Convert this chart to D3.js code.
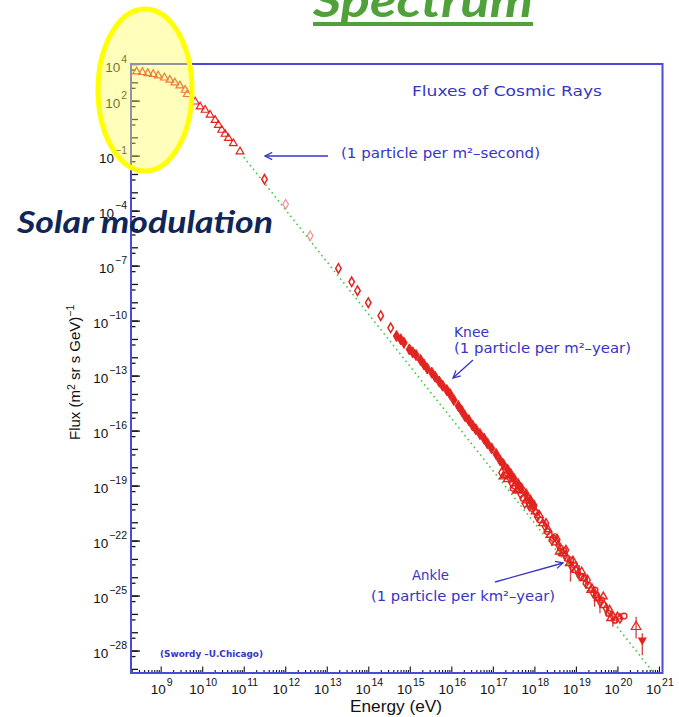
<!DOCTYPE html>
<html>
<head>
<meta charset="utf-8">
<script src="https://cdn.jsdelivr.net/npm/d3@7"></script>
<style>
  body { margin: 0; background: #fff; }
  svg { display: block; font-family: "Liberation Sans", Arial, sans-serif; }
</style>
</head>
<body>
<svg id="chart" width="679" height="717"></svg>
<script>
// values are log10 of energy (eV) and log10 of flux
const lowLogE = [8.42, 8.56, 8.69, 8.82, 8.94, 9.09, 9.22, 9.34, 9.46, 9.59, 9.64, 9.83, 9.95, 10.07, 10.19, 10.31, 10.39, 10.47, 10.55, 10.63, 10.75, 10.91];
const lowLogF = [3.58, 3.55, 3.49, 3.44, 3.36, 3.25, 3.13, 2.98, 2.82, 2.58, 2.35, 1.94, 1.67, 1.49, 1.22, 0.94, 0.67, 0.40, 0.18, -0.05, -0.33, -0.78];

const protonLogE = [11.50, 13.28, 13.60, 13.74, 14.00, 14.30, 14.54];
const protonLogF = [-2.29, -7.15, -7.88, -8.37, -9.02, -9.73, -10.39];
const faintLogE = [12.01, 12.60];
const faintLogF = [-3.65, -5.37];

const kneeLogE = [14.68, 14.78, 14.86, 14.99, 15.07, 15.15, 15.26, 15.34, 15.42, 15.53, 15.61, 15.71, 15.79, 15.89, 15.97,
  16.06, 16.17, 16.25, 16.33, 16.42, 16.51, 16.59, 16.69, 16.79, 16.87, 16.97, 17.08, 17.17, 17.25, 17.35, 17.43,
  17.51, 17.61, 17.69, 17.80, 17.90, 17.99];
const kneeLogF = [-10.84, -11.02, -11.21, -11.57, -11.73, -11.88, -12.15, -12.39, -12.61, -12.84, -13.06, -13.33, -13.55, -13.79, -14.01,
  -14.33, -14.66, -14.92, -15.21, -15.43, -15.72, -15.93, -16.19, -16.44, -16.70, -16.97, -17.28, -17.61, -17.83, -18.12, -18.37,
  -18.63, -18.92, -19.15, -19.46, -19.79, -20.08];

const uhecrLogE = [17.21, 17.29, 17.35, 17.45, 17.53, 17.57, 17.67, 17.73, 17.81, 17.88, 17.94, 18.02, 18.07, 18.14, 18.20,
  18.26, 18.31, 18.38, 18.42, 18.46, 18.52, 18.58, 18.63, 18.68, 18.74, 18.79, 18.84, 18.90, 18.96, 19.00, 19.06, 19.12,
  19.18, 19.24, 19.30, 19.36, 19.42, 19.49, 19.54, 19.58, 19.62, 19.68, 19.73, 19.78, 19.84, 19.89, 19.94, 20.00, 20.06, 20.16,
  17.25, 17.41, 17.49, 17.64, 17.77, 17.98, 18.12, 18.28, 18.50, 18.60, 18.76, 18.87, 19.14, 19.28, 19.46, 19.66, 19.81,
  17.33, 17.60, 17.86, 18.05, 18.33, 18.55, 18.71, 18.93, 19.03, 19.21, 19.39, 19.52];
const uhecrLogF = [-18.30, -18.42, -18.66, -18.84, -19.02, -19.28, -19.46, -19.70, -19.82, -20.11, -20.24, -20.42, -20.70, -20.88, -21.06,
  -21.24, -21.51, -21.70, -21.97, -21.88, -22.11, -22.24, -22.42, -22.70, -22.79, -22.97, -23.24, -23.42, -23.33, -23.61, -23.79, -23.97,
  -24.06, -24.33, -24.43, -24.70, -24.88, -24.97, -25.15, -25.33, -25.24, -25.52, -25.70, -25.97, -26.24, -26.12, -26.34, -26.15, -26.24, -26.12,
  -18.51, -18.60, -19.15, -19.24, -19.97, -20.15, -20.61, -21.06, -21.79, -22.61, -22.52, -23.06, -23.70, -24.15, -24.70, -25.06, -25.79,
  -18.45, -19.20, -19.92, -20.47, -21.40, -21.95, -22.55, -23.10, -23.55, -24.05, -24.62, -25.05];

const errLogE = [18.62, 18.87, 19.08, 19.45, 19.58, 19.74, 19.89, 19.98, 20.10, 20.45, 20.60];
const errLoF = [-22.88, -24.24, -24.06, -25.61, -25.97, -26.15, -26.70, -26.52, -26.43, -27.34, -28.25];
const errHiF = [-22.33, -23.06, -23.33, -24.70, -25.06, -25.42, -25.88, -25.97, -25.97, -26.15, -27.06];

const topLogE = [20.45];
const topLogF = [-26.70];
const limitLogE = [20.60];
const limitLogF = [-27.43];

const fitLogE = [11.0, 20.85];
const fitLogF = [-1.08, -29.15];

const xLabelExp = [9, 10, 11, 12, 13, 14, 15, 16, 17, 18, 19, 20, 21];
const yLabelExp = [4, 2, -1, -4, -7, -10, -13, -16, -19, -22, -25, -28];

const p10 = v => Math.pow(10, v);
const svg = d3.select("#chart");

const plotLeft = 131, plotRight = 662.5, plotTop = 64, plotBottom = 673;
const x = d3.scaleLog().domain([p10(8.285), p10(21.086)]).range([plotLeft, plotRight]);
const y = d3.scaleLog().domain([p10(-29.224), p10(4)]).range([plotBottom, plotTop]);

const red = "#e3231f", blue = "#3535c8";

// ticks
const decadesY = d3.range(-29, 5).map(p10);
const halvesY = d3.range(-30, 4).map(e => 5 * p10(e)).filter(v => v > y.domain()[0] && v < 1e4);
function yAxis(vals, size) {
  const g = svg.append("g").attr("transform", `translate(${plotLeft},0)`)
    .call(d3.axisRight(y).tickValues(vals).tickSize(size).tickFormat(""));
  g.select(".domain").remove();
  g.selectAll("line").attr("stroke", "#111").attr("stroke-width", 1.3);
}
yAxis(decadesY, 7);
yAxis(halvesY, 4.5);
yAxis(yLabelExp.map(p10), 9);

const decadesX = d3.range(9, 22).map(p10);
const minorX = [];
d3.range(8, 21).forEach(e => d3.range(2, 10).forEach(m => {
  const v = m * p10(e);
  if (v > x.domain()[0] && v < x.domain()[1]) minorX.push(v);
}));
function xAxis(vals, size) {
  const g = svg.append("g").attr("transform", `translate(0,${plotBottom})`)
    .call(d3.axisTop(x).tickValues(vals).tickSize(size).tickFormat(""));
  g.select(".domain").remove();
  g.selectAll("line").attr("stroke", "#111").attr("stroke-width", 1.1);
}
xAxis(decadesX, 6.5);
xAxis(minorX, 3);

// frame
svg.append("rect").attr("x", plotLeft).attr("y", plotTop)
  .attr("width", plotRight - plotLeft).attr("height", plotBottom - plotTop)
  .attr("fill", "none").attr("stroke", "#4a4ad8").attr("stroke-width", 2);

// tick labels
xLabelExp.forEach(e => {
  const t = svg.append("text").attr("x", x(p10(e)) + 1).attr("y", 694)
    .attr("text-anchor", "middle").attr("font-size", 13.5).attr("fill", "#111");
  t.append("tspan").text("10");
  t.append("tspan").attr("dy", -8).attr("dx", 1).attr("font-size", 10.5).text(e);
});
yLabelExp.forEach(e => {
  const t = svg.append("text").attr("x", 127).attr("y", y(p10(e)) + 7.5)
    .attr("text-anchor", "end").attr("font-size", 13.5).attr("fill", "#111");
  t.append("tspan").text("10");
  t.append("tspan").attr("dy", -9).attr("dx", 1).attr("font-size", 10.5)
    .text(e < 0 ? "\u2212" + (-e) : e);
});

// axis titles
svg.append("text").attr("x", 350).attr("y", 712).attr("font-size", 17).attr("fill", "#111")
  .attr("textLength", 92).attr("lengthAdjust", "spacingAndGlyphs").text("Energy (eV)");
const yl = svg.append("text").attr("transform", "translate(80,440) rotate(-90)")
  .attr("font-size", 15).attr("fill", "#111");
yl.append("tspan").text("Flux (m");
yl.append("tspan").attr("dy", -5).attr("font-size", 10.5).text("2");
yl.append("tspan").attr("dy", 5).text(" sr s GeV)");
yl.append("tspan").attr("dy", -6).attr("font-size", 10.5).text("\u22121");

// power-law guide
svg.append("path")
  .datum(d3.zip(fitLogE, fitLogF))
  .attr("d", d3.line().x(d => x(p10(d[0]))).y(d => y(p10(d[1]))))
  .attr("fill", "none").attr("stroke", "#45c845").attr("stroke-width", 1.6)
  .attr("stroke-dasharray", "1.6,3.4");

// error bars
svg.append("g").selectAll("line").data(d3.range(errLogE.length)).join("line")
  .attr("x1", i => x(p10(errLogE[i]))).attr("x2", i => x(p10(errLogE[i])))
  .attr("y1", i => y(p10(errLoF[i]))).attr("y2", i => y(p10(errHiF[i])))
  .attr("stroke", "#d84040").attr("stroke-width", 1.3);

function markers(es, fs, type, size, fill, stroke, sw) {
  svg.append("g").selectAll("path").data(d3.range(es.length)).join("path")
    .attr("transform", i => `translate(${x(p10(es[i]))},${y(p10(fs[i]))})`)
    .attr("d", d3.symbol(type, size))
    .attr("fill", fill).attr("stroke", stroke).attr("stroke-width", sw);
}

markers(lowLogE, lowLogF, d3.symbolTriangle, 26, "none", red, 1.2);
markers(protonLogE, protonLogF, d3.symbolDiamond, 26, "none", red, 1.5);
markers(faintLogE, faintLogF, d3.symbolDiamond, 26, "none", "#f09090", 1.2);
markers(kneeLogE, kneeLogF, d3.symbolDiamond, 36, red, red, 1);

const shapes = [d3.symbolDiamond, d3.symbolCircle, d3.symbolTriangle];
shapes.forEach((s, k) => {
  const idx = d3.range(uhecrLogE.length).filter(i => i % 3 === k);
  markers(idx.map(i => uhecrLogE[i]), idx.map(i => uhecrLogF[i]), s, 26, "none", red, 1.4);
});
markers(topLogE, topLogF, d3.symbolTriangle, 40, "none", red, 1.2);
svg.append("g").selectAll("path").data(d3.range(limitLogE.length)).join("path")
  .attr("transform", i => `translate(${x(p10(limitLogE[i]))},${y(p10(limitLogF[i]))}) rotate(180)`)
  .attr("d", d3.symbol(d3.symbolTriangle, 36)).attr("fill", red);

// annotations
const defs = svg.append("defs");
defs.append("marker").attr("id", "head").attr("viewBox", "0 0 10 10")
  .attr("refX", 9).attr("refY", 5).attr("markerWidth", 9).attr("markerHeight", 9)
  .attr("markerUnits", "userSpaceOnUse").attr("orient", "auto")
  .append("path").attr("d", "M1,1 L9,5 L1,9").attr("fill", "none")
  .attr("stroke", blue).attr("stroke-width", 1.4);

function note(tx, ty, str, len, size = 14, weight = "normal") {
  svg.append("text").attr("x", tx).attr("y", ty)
    .attr("font-family", "'DejaVu Sans', sans-serif").attr("font-size", size)
    .attr("font-weight", weight).attr("fill", blue)
    .attr("textLength", len).attr("lengthAdjust", "spacingAndGlyphs").text(str);
}
function arrow(x1, y1, x2, y2) {
  svg.append("line").attr("x1", x1).attr("y1", y1).attr("x2", x2).attr("y2", y2)
    .attr("stroke", blue).attr("stroke-width", 1.3).attr("marker-end", "url(#head)");
}

note(412, 96, "Fluxes of Cosmic Rays", 190);
note(341, 158, "(1 particle per m\u00b2\u2013second)", 199);
arrow(328, 156, 265, 156);
note(454, 337, "Knee", 35);
note(454, 353, "(1 particle per m\u00b2\u2013year)", 177);
arrow(473, 360, 453, 378);
note(412, 580, "Ankle", 37);
note(371, 601, "(1 particle per km\u00b2\u2013year)", 184);
arrow(495, 582, 563, 563);
note(160, 657, "(Swordy \u2013U.Chicago)", 103, 9, "bold");

// slide overlay
svg.append("ellipse").attr("cx", 145).attr("cy", 90).attr("rx", 47).attr("ry", 81)
  .attr("fill", "#ffff55").attr("fill-opacity", 0.4)
  .attr("stroke", "#ffff00").attr("stroke-width", 5);

svg.append("text").attr("x", 17).attr("y", 233)
  .attr("font-family", "Lato, 'Open Sans', sans-serif").attr("font-size", 30)
  .attr("font-weight", "bold").attr("font-style", "italic").attr("fill", "#0f2657")
  .attr("textLength", 256).attr("lengthAdjust", "spacingAndGlyphs").text("Solar modulation");

svg.append("text").attr("x", 313).attr("y", 17)
  .attr("font-family", "Lato, 'Open Sans', sans-serif").attr("font-size", 46)
  .attr("font-weight", "bold").attr("font-style", "italic").attr("fill", "#4fa13a")
  .attr("textLength", 220).attr("lengthAdjust", "spacingAndGlyphs").text("Spectrum");
svg.append("rect").attr("x", 313).attr("y", 22).attr("width", 220).attr("height", 4)
  .attr("fill", "#4fa13a");
</script>
</body>
</html>
